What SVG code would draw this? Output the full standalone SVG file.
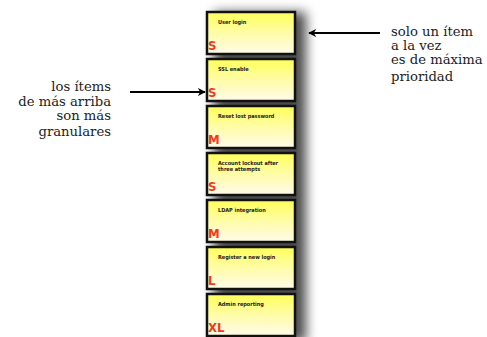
<svg xmlns="http://www.w3.org/2000/svg" width="487" height="337" viewBox="0 0 487 337">
<style>
.card{fill:url(#yg);stroke:#111;stroke-width:2.5}
.sh{fill:#000;opacity:0.7;filter:url(#blur)}
.t{font-family:"DejaVu Sans Condensed","DejaVu Sans",sans-serif;font-weight:bold;font-size:5.5px;fill:#222}
.s{font-family:"DejaVu Sans Condensed","DejaVu Sans",sans-serif;font-weight:bold;font-size:13px;fill:#ee3a1e}
.n{font-family:"DejaVu Serif",serif;font-size:13.2px;fill:#222}
.ar{stroke:#000;stroke-width:2;fill:none}
</style>
<defs>
<linearGradient id="yg" x1="0" y1="0" x2="0" y2="1">
<stop offset="0" stop-color="#ffff58"/>
<stop offset="0.5" stop-color="#fffca8"/>
<stop offset="1" stop-color="#fffbeb"/>
</linearGradient>
<filter id="blur" x="-50%" y="-50%" width="200%" height="200%"><feGaussianBlur stdDeviation="6"/></filter>
<marker id="ah" viewBox="0 0 10 10" refX="9" refY="5" markerWidth="8" markerHeight="8" markerUnits="userSpaceOnUse" orient="auto"><path d="M0,0 L10,5 L0,10 L3,5 Z" fill="#000"/></marker>
</defs>
<rect width="487" height="337" fill="#fff"/>
<rect class="sh" x="214" y="12" width="92" height="330"/>
<g id="c1"><rect class="card" x="207" y="12" width="88" height="42"/><text class="t" x="218" y="24">User login</text><text class="s" x="208" y="50">S</text></g>
<g id="c2"><rect class="card" x="207" y="59" width="88" height="42"/><text class="t" x="218" y="71">SSL enable</text><text class="s" x="208" y="97">S</text></g>
<g id="c3"><rect class="card" x="207" y="106" width="88" height="42"/><text class="t" x="218" y="118">Reset lost password</text><text class="s" x="208" y="144">M</text></g>
<g id="c4"><rect class="card" x="207" y="153" width="88" height="42"/><text class="t" x="218" y="165">Account lockout after</text><text class="t" x="218" y="171">three attempts</text><text class="s" x="208" y="191">S</text></g>
<g id="c5"><rect class="card" x="207" y="200" width="88" height="42"/><text class="t" x="218" y="212">LDAP integration</text><text class="s" x="208" y="238">M</text></g>
<g id="c6"><rect class="card" x="207" y="247" width="88" height="42"/><text class="t" x="218" y="259">Register a new login</text><text class="s" x="208" y="285">L</text></g>
<g id="c7"><rect class="card" x="207" y="294" width="88" height="42"/><text class="t" x="218" y="306">Admin reporting</text><text class="s" x="208" y="332">XL</text></g>
<g id="connectors">
<line class="ar" x1="380" y1="33" x2="309" y2="33" marker-end="url(#ah)"/>
<line class="ar" x1="130" y1="92" x2="205" y2="92" marker-end="url(#ah)"/>
</g>
<g id="note-right">
<text class="n" x="391" y="36">solo un ítem</text>
<text class="n" x="391" y="50">a la vez</text>
<text class="n" x="391" y="64">es de máxima</text>
<text class="n" x="391" y="81">prioridad</text>
</g>
<g id="note-left" text-anchor="end">
<text class="n" x="111" y="91">los ítems</text>
<text class="n" x="111" y="106">de más arriba</text>
<text class="n" x="111" y="120">son más</text>
<text class="n" x="111" y="136">granulares</text>
</g>
</svg>
